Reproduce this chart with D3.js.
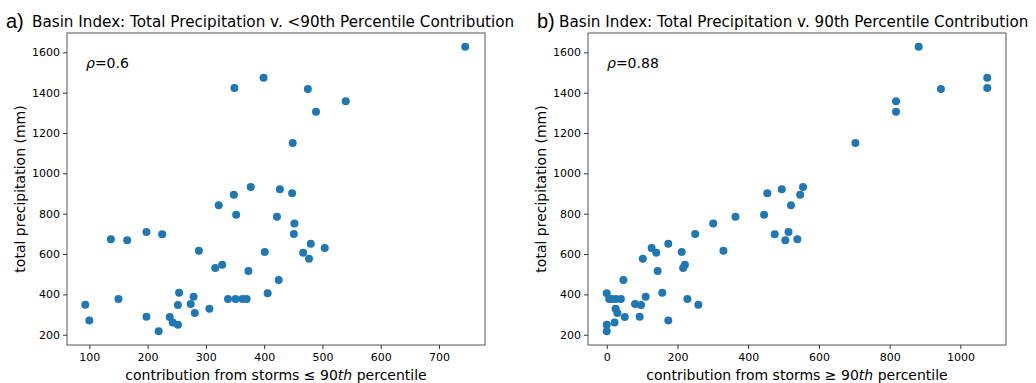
<!DOCTYPE html>
<html>
<head>
<meta charset="utf-8">
<script src="https://cdn.jsdelivr.net/npm/d3@7/dist/d3.min.js"></script>
<style>
  body { margin: 0; background: #fff; }
  svg text { font-family: "DejaVu Sans", sans-serif; fill: #000; }
  .axis path, .axis line { stroke: #333; }
</style>
</head>
<body>
<svg id="chart" width="1036" height="383"></svg>
<script>
// total precipitation (mm) per basin
const totalPrecip = [1628,1474,1423,1418,1357,1306,1150,932,921,902,894,842,795,785,752,709,699,698,673,668,651,630,616,610,607,577,547,531,516,471,408,405,388,377,377,377,377,377,352,349,347,329,308,289,288,271,261,250,217];
// contribution from storms <= 90th percentile
const below90 = [745,399,349,475,540,489,449,377,427,448,348,322,352,422,452,198,451,225,137,165,480,504,288,401,467,477,328,316,373,425,254,406,279,150,338,351,363,370,274,93,252,306,281,198,238,100,243,252,219];
// contribution from storms >= 90th percentile
const above90 = [882,1076,1076,945,818,818,703,555,495,454,547,521,445,364,301,514,250,475,539,505,174,127,330,212,140,102,221,216,144,47,157,0,110,228,40,26,14,7,80,259,97,25,30,93,51,174,22,0,0];

const yTicks = [200,400,600,800,1000,1200,1400,1600];
const xTicksA = [100,200,300,400,500,600,700];
const xTicksB = [0,200,400,600,800,1000];

const svg = d3.select("#chart");
const plotTop = 33, plotBottom = 345;

const y = d3.scaleLinear().domain([149, 1696]).range([plotBottom, plotTop]);

const panels = [
  {
    left: 67, right: 485, letter: "a)", letterX: 6, titleX: 32,
    title: "Basin Index: Total Precipitation v. <90th Percentile Contribution",
    xs: below90, xDomain: [61.7, 779], xTicks: xTicksA,
    rho: "0.6", xlabelPre: "contribution from storms  \u2264 90", ylabelX: 25
  },
  {
    left: 588, right: 1006, letter: "b)", letterX: 537, titleX: 559,
    title: "Basin Index: Total Precipitation v. 90th Percentile Contribution",
    xs: above90, xDomain: [-53, 1129], xTicks: xTicksB,
    rho: "0.88", xlabelPre: "contribution from storms \u2265 90", ylabelX: 546
  }
];

panels.forEach(p => {
  const x = d3.scaleLinear().domain(p.xDomain).range([p.left, p.right]);
  const g = svg.append("g");

  // frame
  g.append("rect")
    .attr("x", p.left).attr("y", plotTop)
    .attr("width", p.right - p.left).attr("height", plotBottom - plotTop)
    .attr("fill", "none").attr("stroke", "#555").attr("stroke-width", 1);

  // axes
  const xAxis = g.append("g").attr("class", "axis")
    .attr("transform", "translate(0," + plotBottom + ")")
    .call(d3.axisBottom(x).tickValues(p.xTicks).tickSize(4).tickPadding(4).tickFormat(d3.format("d")));
  xAxis.select(".domain").remove();
  xAxis.selectAll("text").style("font-size", "11px");

  const yAxis = g.append("g").attr("class", "axis")
    .attr("transform", "translate(" + p.left + ",0)")
    .call(d3.axisLeft(y).tickValues(yTicks).tickSize(4).tickPadding(3).tickFormat(d3.format("d")));
  yAxis.select(".domain").remove();
  yAxis.selectAll("text").style("font-size", "11px");

  // points
  g.selectAll("circle")
    .data(p.xs.map((v, i) => [v, totalPrecip[i]]))
    .enter().append("circle")
    .attr("cx", d => x(d[0]))
    .attr("cy", d => y(d[1]))
    .attr("r", 4)
    .attr("fill", "#1f77b4");

  // titles
  svg.append("text").attr("x", p.letterX).attr("y", 28)
    .style("font-family", "Liberation Sans, Arial, sans-serif")
    .style("font-size", "20px").text(p.letter);
  svg.append("text").attr("x", p.titleX).attr("y", 27)
    .style("font-size", "15.2px").text(p.title);

  // rho annotation
  const r = svg.append("text").attr("x", p.left + 19).attr("y", 68).style("font-size", "14px");
  r.append("tspan").style("font-style", "italic").text("\u03C1");
  r.append("tspan").text("=" + p.rho);

  // x label
  const xl = svg.append("text")
    .attr("x", (p.left + p.right) / 2).attr("y", 380)
    .attr("text-anchor", "middle").style("font-size", "14px");
  xl.append("tspan").text(p.xlabelPre);
  xl.append("tspan").style("font-style", "italic").text("th");
  xl.append("tspan").text(" percentile");

  // y label
  svg.append("text")
    .attr("transform", "translate(" + p.ylabelX + "," + (plotTop + plotBottom) / 2 + ") rotate(-90)")
    .attr("text-anchor", "middle").style("font-size", "14px")
    .text("total precipitation (mm)");
});
</script>
</body>
</html>
